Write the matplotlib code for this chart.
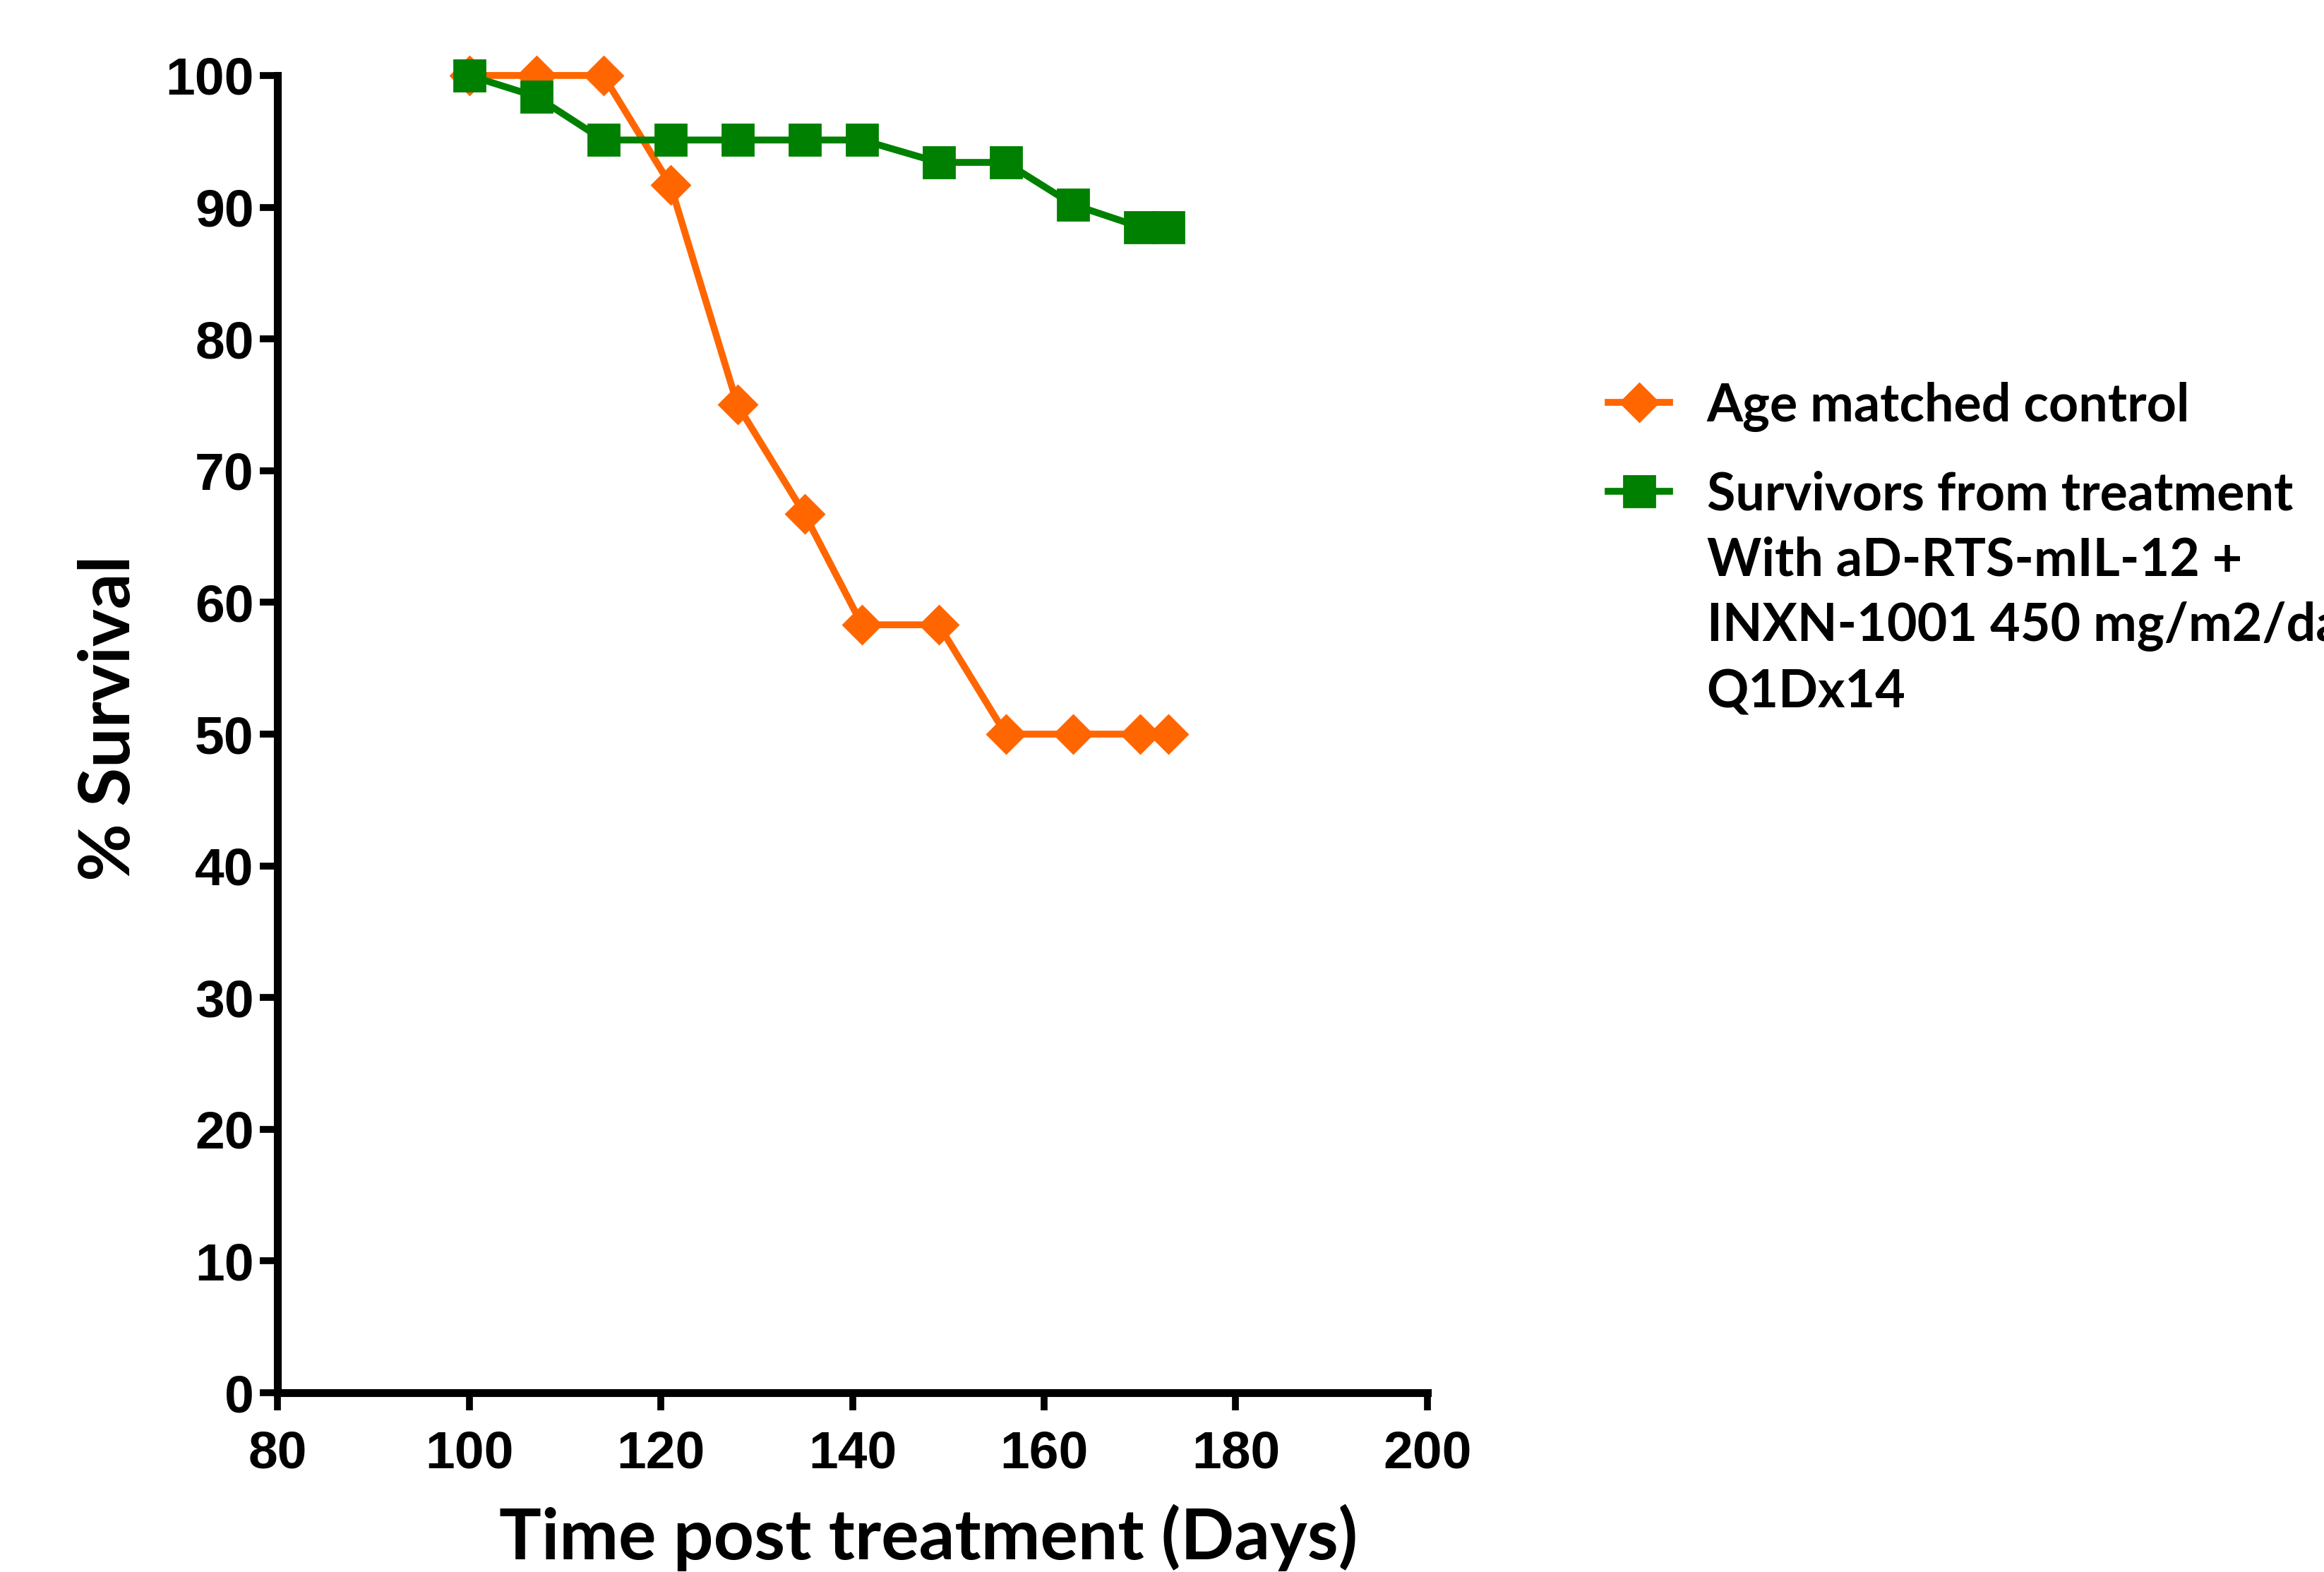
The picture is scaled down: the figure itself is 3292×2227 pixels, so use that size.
import matplotlib
matplotlib.use('Agg')
import matplotlib.pyplot as plt

# Survival data
days_control = [100, 107, 114, 121, 128, 135, 141, 149, 156, 163, 170, 173]
surv_control = [100, 100, 100, 91.7, 75, 66.7, 58.3, 58.3, 50, 50, 50, 50]

days_treated = [100, 107, 114, 121, 128, 135, 141, 149, 156, 163, 170, 173]
surv_treated = [100, 98.4, 95.1, 95.1, 95.1, 95.1, 95.1, 93.4, 93.4, 90.2, 88.5, 88.5]

label_control = 'Age matched control'
label_treated = ('Survivors from treatment\nWith aD-RTS-mIL-12 +\n'
                 'INXN-1001 450 mg/m2/day\nQ1Dx14')

x_ticks = [80, 100, 120, 140, 160, 180, 200]
y_ticks = [0, 10, 20, 30, 40, 50, 60, 70, 80, 90, 100]

orange = '#FF6600'
green = '#008000'

fig = plt.figure(figsize=(16.46, 11.135), dpi=200)
ax = fig.add_axes([0.1194, 0.114, 0.4948, 0.838])

ax.plot(days_control, surv_control, color=orange, lw=3.5, marker='D', ms=13.5,
        label=label_control, clip_on=False, zorder=3)
ax.plot(days_treated, surv_treated, color=green, lw=3.5, marker='s', ms=16,
        label=label_treated, clip_on=False, zorder=4)

ax.set_xlim(80, 200)
ax.set_ylim(0, 100)
ax.set_xticks(x_ticks)
ax.set_yticks(y_ticks)

for side in ['top', 'right']:
    ax.spines[side].set_visible(False)
for side in ['left', 'bottom']:
    ax.spines[side].set_linewidth(4)

ax.tick_params(width=3.5, length=9, pad=3)
tick_font = {'family': 'Liberation Sans', 'weight': 'bold', 'size': 27}
ax.set_xticklabels([str(t) for t in x_ticks], fontdict=tick_font)
ax.set_yticklabels([str(t) for t in y_ticks], fontdict=tick_font)
ax.tick_params(axis='x', pad=10)

ax.set_xlabel('Time post treatment (Days)', family='Lato', weight='bold',
              size=36, labelpad=13, x=0.566)
ax.set_ylabel('% Survival', family='Lato', weight='bold', size=36,
              labelpad=12, y=0.512)

leg = fig.legend(loc='upper left', bbox_to_anchor=(0.672, 0.787), frameon=False,
                 prop={'family': 'Lato', 'weight': 'bold', 'size': 26.5},
                 handlelength=1.17, handletextpad=0.72, labelspacing=0.75,
                 handleheight=1.0)
for t in leg.get_texts():
    t.set_linespacing(1.42)
# put the marker next to the first line of a multi-line label
for col in leg._legend_handle_box.get_children():
    for item in col.get_children():
        item.align = 'top'

fig.savefig('out.png', dpi=200)
